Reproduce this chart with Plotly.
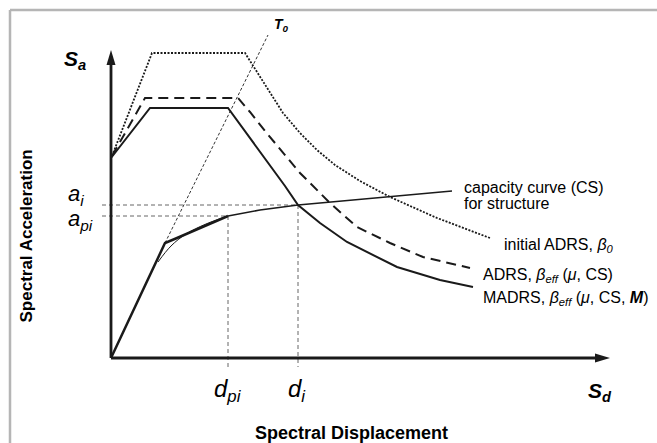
import plotly.graph_objects as go

# ---- data (schematic spectral displacement Sd / spectral acceleration Sa units) ----
init_adrs_sd = [1, 41, 134, 156, 172, 189, 206, 224, 249, 279, 326, 379]
init_adrs_sa = [202, 305, 305, 271, 245, 225, 208, 193, 177, 161, 140, 120]

adrs_sd = [1, 34, 127, 139, 154, 169, 189, 219, 246, 279, 312, 359]
adrs_sa = [202, 260, 260, 246, 227, 209, 185, 155, 131, 115, 101, 90]

madrs_sd = [0, 39, 117, 139, 159, 174, 187, 209, 236, 286, 329, 362]
madrs_sa = [200, 250, 250, 220, 193, 172, 153, 135, 116, 91, 78, 71]

cap_sd = [0, 54, 66, 117]
cap_sa = [0, 115, 120, 142]
cap2_sd = [117, 149, 187, 341]
cap2_sa = [142, 148, 153, 167]

bilin_sd = [47, 60, 75, 95, 117]
bilin_sa = [96, 112, 124, 134, 142]

t0_sd = [54, 157]
t0_sa = [115, 323]

d_pi, a_pi = 117, 142
d_i, a_i = 187, 153

x_tip, y_tip = 499, 308
ref_start = -9

X_RANGE = [-111, 546]
Y_RANGE = [-85, 358]

FONT = "Liberation Sans, Arial, sans-serif"
INK = "#1a1a1a"

fig = go.Figure()

def line(xs, ys, width, dash=None, color=INK, shape="linear"):
    fig.add_trace(go.Scatter(x=xs, y=ys, mode="lines", hoverinfo="skip",
                             line=dict(color=color, width=width, dash=dash, shape=shape),
                             showlegend=False))

# reference dashed lines
line([ref_start, d_i], [a_i, a_i], 1, "4px,3px", "#666666")
line([ref_start, d_pi], [a_pi, a_pi], 1, "4px,3px", "#666666")
line([d_pi, d_pi], [a_pi, ref_start], 1, "4px,3px", "#666666")
line([d_i, d_i], [a_i, ref_start], 1, "4px,3px", "#666666")

# T0 line
line(t0_sd, t0_sa, 1, "3px,2px", "#333333")

# spectra
line(init_adrs_sd, init_adrs_sa, 1.8, "2px,1.5px")
line(adrs_sd, adrs_sa, 2, "10px,6px")
line(madrs_sd, madrs_sa, 2)

# capacity curve
line(bilin_sd, bilin_sa, 1, shape="spline")
line(cap_sd, cap_sa, 2.5)
line(cap2_sd, cap2_sa, 1.5)

# axes
line([0, 0], [0, y_tip - 12], 2.8)
line([0, x_tip - 12], [0, 0], 2.8)
head_len, head_half = 15, 4.5
shapes = [
    dict(type="path", xref="x", yref="y", fillcolor=INK, line=dict(width=0),
         path=f"M {-head_half} {y_tip - head_len} L 0 {y_tip} L {head_half} {y_tip - head_len} Z"),
    dict(type="path", xref="x", yref="y", fillcolor=INK, line=dict(width=0),
         path=f"M {x_tip - head_len} {-head_half} L {x_tip} 0 L {x_tip - head_len} {head_half} Z"),
    # frame
    dict(type="line", xref="paper", yref="paper", x0=10 / 657, x1=1, y0=1 - 10 / 443, y1=1 - 10 / 443,
         line=dict(color="#b5b5b5", width=2.5)),
    dict(type="line", xref="paper", yref="paper", x0=10 / 657, x1=10 / 657, y0=0, y1=1 - 10 / 443,
         line=dict(color="#b5b5b5", width=2.5)),
]

def ann(x, y, text, size, xanchor="left", yanchor="middle", angle=0):
    return dict(x=x, y=y, xref="x", yref="y", text=text, showarrow=False,
                xanchor=xanchor, yanchor=yanchor, textangle=angle, borderpad=0,
                font=dict(family=FONT, size=size, color="#000000"))

annotations = [
    ann(-48, 298, "<b><i>S</i></b><sub><b><i>a</i></b></sub>", 21),
    ann(476, -34, "<b><i>S</i></b><sub><b><i>d</i></b></sub>", 21),
    ann(162, 333, "<b><i>T</i></b><sub><b><i>0</i></b></sub>", 14),
    ann(-44, 163, "<i>a</i><sub><i>i</i></sub>", 22),
    ann(-44, 138, "<i>a</i><sub><i>pi</i></sub>", 22),
    ann(102, -32, "<i>d</i><sub><i>pi</i></sub>", 24),
    ann(176, -32, "<i>d</i><sub><i>i</i></sub>", 24),
    ann(352, 171, "capacity curve (CS)", 16),
    ann(352, 154.5, "for structure", 16),
    ann(392, 113, "initial ADRS, <i>β</i><sub><i>0</i></sub>", 16),
    ann(371, 83, "ADRS, <i>β</i><sub><i>eff</i></sub> (<i>μ</i>, CS)", 16),
    ann(371, 60, "MADRS, <i>β</i><sub><i>eff</i></sub> (<i>μ</i>, CS, <b><i>M</i></b>)", 16),
    ann(240, -75, "<b>Spectral Displacement</b>", 18, xanchor="center"),
    ann(-85, 121.5, "<b>Spectral Acceleration</b>", 17, xanchor="center", angle=-90),
]

fig.update_layout(
    width=657, height=443, autosize=False,
    margin=dict(l=0, r=0, t=0, b=0, pad=0),
    paper_bgcolor="white", plot_bgcolor="white",
    xaxis=dict(range=X_RANGE, visible=False, fixedrange=True),
    yaxis=dict(range=Y_RANGE, visible=False, fixedrange=True),
    shapes=shapes, annotations=annotations,
)

fig.write_html("out.html", config={"displayModeBar": False})
